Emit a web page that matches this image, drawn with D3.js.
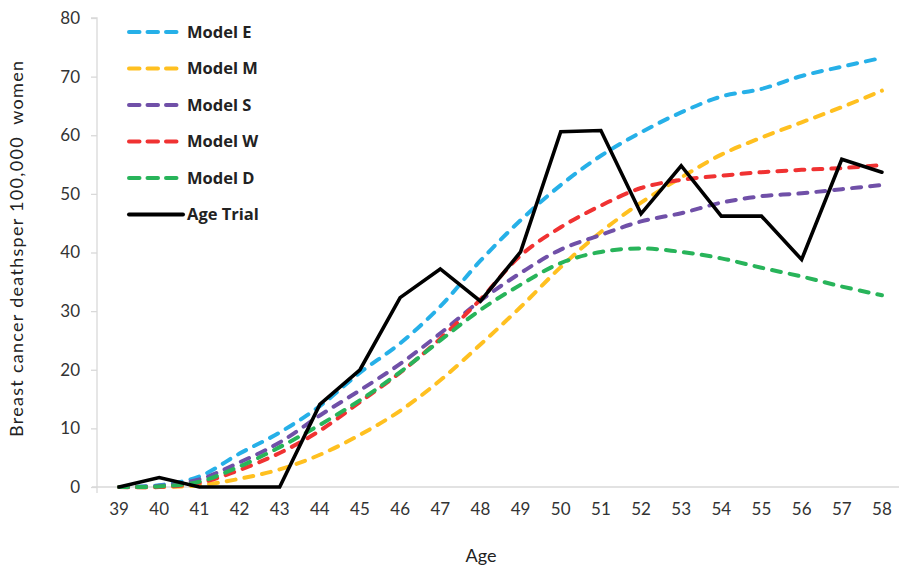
<!DOCTYPE html>
<html>
<head>
<meta charset="utf-8">
<script src="https://cdn.jsdelivr.net/npm/d3@7"></script>
<style>
  html, body { margin: 0; padding: 0; background: #fff; }
  svg { display: block; }
</style>
</head>
<body>
<svg id="chart" width="899" height="571"></svg>
<script>
// Age at screening (categories)
const ages = [39, 40, 41, 42, 43, 44, 45, 46, 47, 48, 49, 50, 51, 52, 53, 54, 55, 56, 57, 58];
const yTicks = [0, 10, 20, 30, 40, 50, 60, 70, 80];

// Breast cancer deaths per 100,000 women, by model
const modelE = [0, 0.3, 1.8, 5.7, 9.3, 13.8, 19.5, 24.5, 30.8, 38.6, 45.5, 51.5, 56.5, 60.5, 63.9, 66.6, 67.9, 70.1, 71.7, 73.2];
const modelM = [0, 0, 0.3, 1.4, 3.0, 5.5, 8.9, 13.0, 18.2, 24.3, 30.7, 37.5, 43.5, 48.5, 52.8, 56.7, 59.6, 62.2, 64.8, 67.6];
const modelS = [0, 0.2, 1.3, 4.2, 7.6, 12.2, 16.5, 21.0, 26.2, 31.8, 36.5, 40.5, 43.0, 45.3, 46.7, 48.5, 49.6, 50.1, 50.8, 51.5];
const modelW = [0, 0, 0.7, 2.9, 5.8, 9.6, 14.5, 19.5, 25.3, 32.0, 39.5, 44.3, 48.0, 51.0, 52.4, 53.1, 53.7, 54.1, 54.4, 54.9];
const modelD = [0, 0.1, 0.9, 3.5, 6.8, 10.6, 14.8, 19.6, 25.0, 30.2, 34.5, 38.2, 40.1, 40.7, 40.1, 39.0, 37.4, 35.9, 34.2, 32.7];
const ageTrial = [0, 1.6, 0, 0, 0, 14.1, 20.0, 32.3, 37.2, 31.7, 40.1, 60.6, 60.8, 46.6, 54.8, 46.2, 46.2, 38.8, 55.9, 53.7];

const series = [
  { name: "Model E", values: modelE, color: "#26b0e8", dashed: true },
  { name: "Model M", values: modelM, color: "#ffc020", dashed: true },
  { name: "Model S", values: modelS, color: "#7050a8", dashed: true },
  { name: "Model W", values: modelW, color: "#f03232", dashed: true },
  { name: "Model D", values: modelD, color: "#28b45a", dashed: true },
  { name: "Age Trial", values: ageTrial, color: "#000000", dashed: false }
];

const svg = d3.select("#chart");
const font = "Lato, 'Open Sans', sans-serif";
const legendFont = "'Open Sans', Lato, sans-serif";

const x = d3.scaleBand().domain(ages).range([99, 902]).paddingInner(0).paddingOuter(0);
const cx = a => x(a) + x.bandwidth() / 2;
const y = d3.scaleLinear().domain([0, 80]).range([487, 18]);

// Y axis
const yAxis = svg.append("g")
  .attr("transform", "translate(97,0)")
  .call(d3.axisLeft(y).tickValues(yTicks).tickSize(6).tickPadding(11));
yAxis.select(".domain").attr("stroke", "#d9d9d9").attr("stroke-width", 1.3)
  .attr("d", `M-6,${y(80)}H0V${y(0)}`);
yAxis.selectAll(".tick line").attr("stroke", "#d9d9d9").attr("stroke-width", 1.3);
yAxis.selectAll(".tick text").attr("font-family", font).attr("font-size", 17).attr("fill", "#333");

// X axis
const xAxis = svg.append("g")
  .attr("transform", `translate(0,${y(0)})`)
  .call(d3.axisBottom(x).tickSize(0).tickPadding(16));
xAxis.select(".domain").attr("stroke", "#d9d9d9").attr("stroke-width", 1.6)
  .attr("d", "M92,0H903");
xAxis.selectAll(".tick text").attr("font-family", font).attr("font-size", 17).attr("fill", "#333");
xAxis.append("line").attr("x1", 97).attr("x2", 97).attr("y1", 0).attr("y2", 6)
  .attr("stroke", "#d9d9d9").attr("stroke-width", 1.3);

// Axis titles
svg.append("text")
  .attr("transform", "translate(23,249) rotate(-90)")
  .attr("text-anchor", "middle")
  .attr("font-family", font).attr("font-size", 18).attr("fill", "#222")
  .attr("textLength", 376).attr("lengthAdjust", "spacing")
  .style("white-space", "pre")
  .text("Breast cancer deathsper 100,000  women");
svg.append("text")
  .attr("x", 481).attr("y", 562)
  .attr("text-anchor", "middle")
  .attr("font-family", font).attr("font-size", 18).attr("fill", "#222")
  .text("Age");

// Lines
const smooth = d3.line().x((d, i) => cx(ages[i])).y(d => y(d)).curve(d3.curveCatmullRom.alpha(0.5));
const straight = d3.line().x((d, i) => cx(ages[i])).y(d => y(d));

series.forEach(s => {
  svg.append("path")
    .datum(s.values)
    .attr("fill", "none")
    .attr("stroke", s.color)
    .attr("stroke-width", s.dashed ? 4 : 3.6)
    .attr("stroke-linecap", "round")
    .attr("stroke-linejoin", "miter")
    .attr("stroke-dasharray", s.dashed ? "9 9" : null)
    .attr("d", s.dashed ? smooth(s.values) : straight(s.values));
});

// Legend
const legend = svg.append("g");
series.forEach((s, i) => {
  const ly = 32 + i * 36.5;
  legend.append("line")
    .attr("x1", 129).attr("x2", s.dashed ? 177 : 183)
    .attr("y1", ly).attr("y2", ly)
    .attr("stroke", s.color).attr("stroke-width", 4)
    .attr("stroke-linecap", "round")
    .attr("stroke-dasharray", s.dashed ? "10.5 8" : null);
  legend.append("text")
    .attr("x", 187).attr("y", ly).attr("dy", "0.36em")
    .attr("font-family", legendFont).attr("font-size", 16.5).attr("font-weight", "bold")
    .attr("fill", "#222")
    .text(s.name);
});
</script>
</body>
</html>
